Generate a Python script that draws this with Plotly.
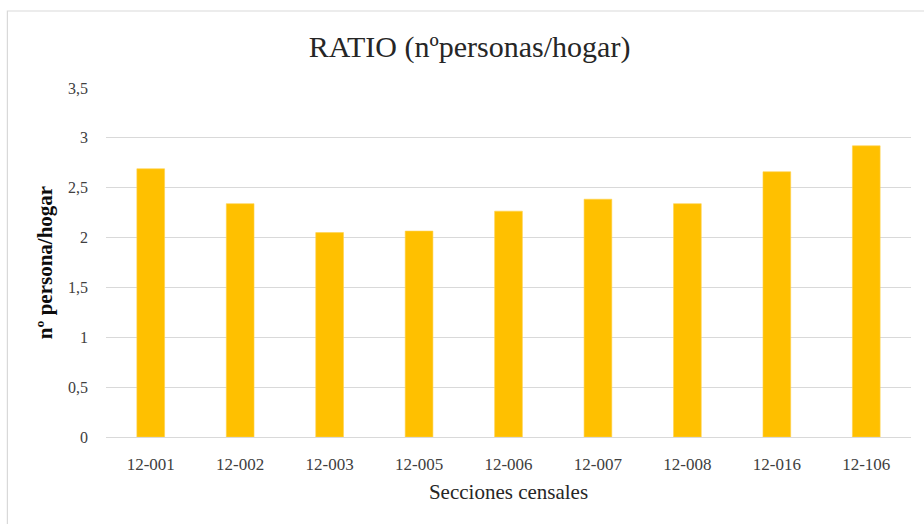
import plotly.graph_objects as go

# Census sections and average household size (persons per household)
secciones = ["12-001", "12-002", "12-003", "12-005", "12-006",
             "12-007", "12-008", "12-016", "12-106"]
ratio = [2.69, 2.34, 2.05, 2.065, 2.265, 2.385, 2.34, 2.66, 2.92]

y_ticks = [0, 0.5, 1, 1.5, 2, 2.5, 3, 3.5]
y_tick_text = ["0", "0,5", "1", "1,5", "2", "2,5", "3", "3,5"]

FONT = "Liberation Serif"
TEXT = "#404040"
GRID = "#d9d9d9"

fig = go.Figure(
    go.Bar(
        x=secciones,
        y=ratio,
        marker=dict(color="#FFC000", line=dict(color="#FFD24D", width=0.6)),
        hoverinfo="x+y",
    )
)

fig.update_layout(
    width=924,
    height=524,
    margin=dict(l=106, r=13, t=88, b=87),
    paper_bgcolor="white",
    plot_bgcolor="white",
    bargap=0.69,
    showlegend=False,
    font=dict(family=FONT, color=TEXT),
    title=dict(
        text="RATIO (nºpersonas/hogar)",
        x=0.4516, xref="paper", xanchor="center",
        y=0.912, yref="container", yanchor="middle",
        font=dict(family=FONT, size=30, color="#262626"),
    ),
    xaxis=dict(
        title=dict(text="Secciones censales", font=dict(size=21, color="#262626"), standoff=10),
        tickfont=dict(size=17, color=TEXT),
        showgrid=False,
        showline=True,
        linecolor=GRID,
        linewidth=1,
        ticks="",
        ticklen=0,
        ticklabelstandoff=12,
    ),
    yaxis=dict(
        title=dict(text="<b>nº persona/hogar</b>", font=dict(size=21, color="#0d0d0d"), standoff=9),
        range=[0, 3.5],
        tickvals=y_ticks,
        ticktext=y_tick_text,
        tickfont=dict(size=16, color=TEXT),
        showgrid=True,
        gridcolor=GRID,
        gridwidth=1,
        zeroline=False,
        ticks="",
        ticklabelstandoff=17,
    ),
    shapes=[
        dict(
            type="rect", xref="paper", yref="paper",
            x0=-0.1225, x1=1.2, y0=-0.6, y1=1.2206,
            line=dict(color=GRID, width=1.2),
            fillcolor="rgba(0,0,0,0)",
            layer="below",
        )
    ],
)

fig.write_html("out.html")
